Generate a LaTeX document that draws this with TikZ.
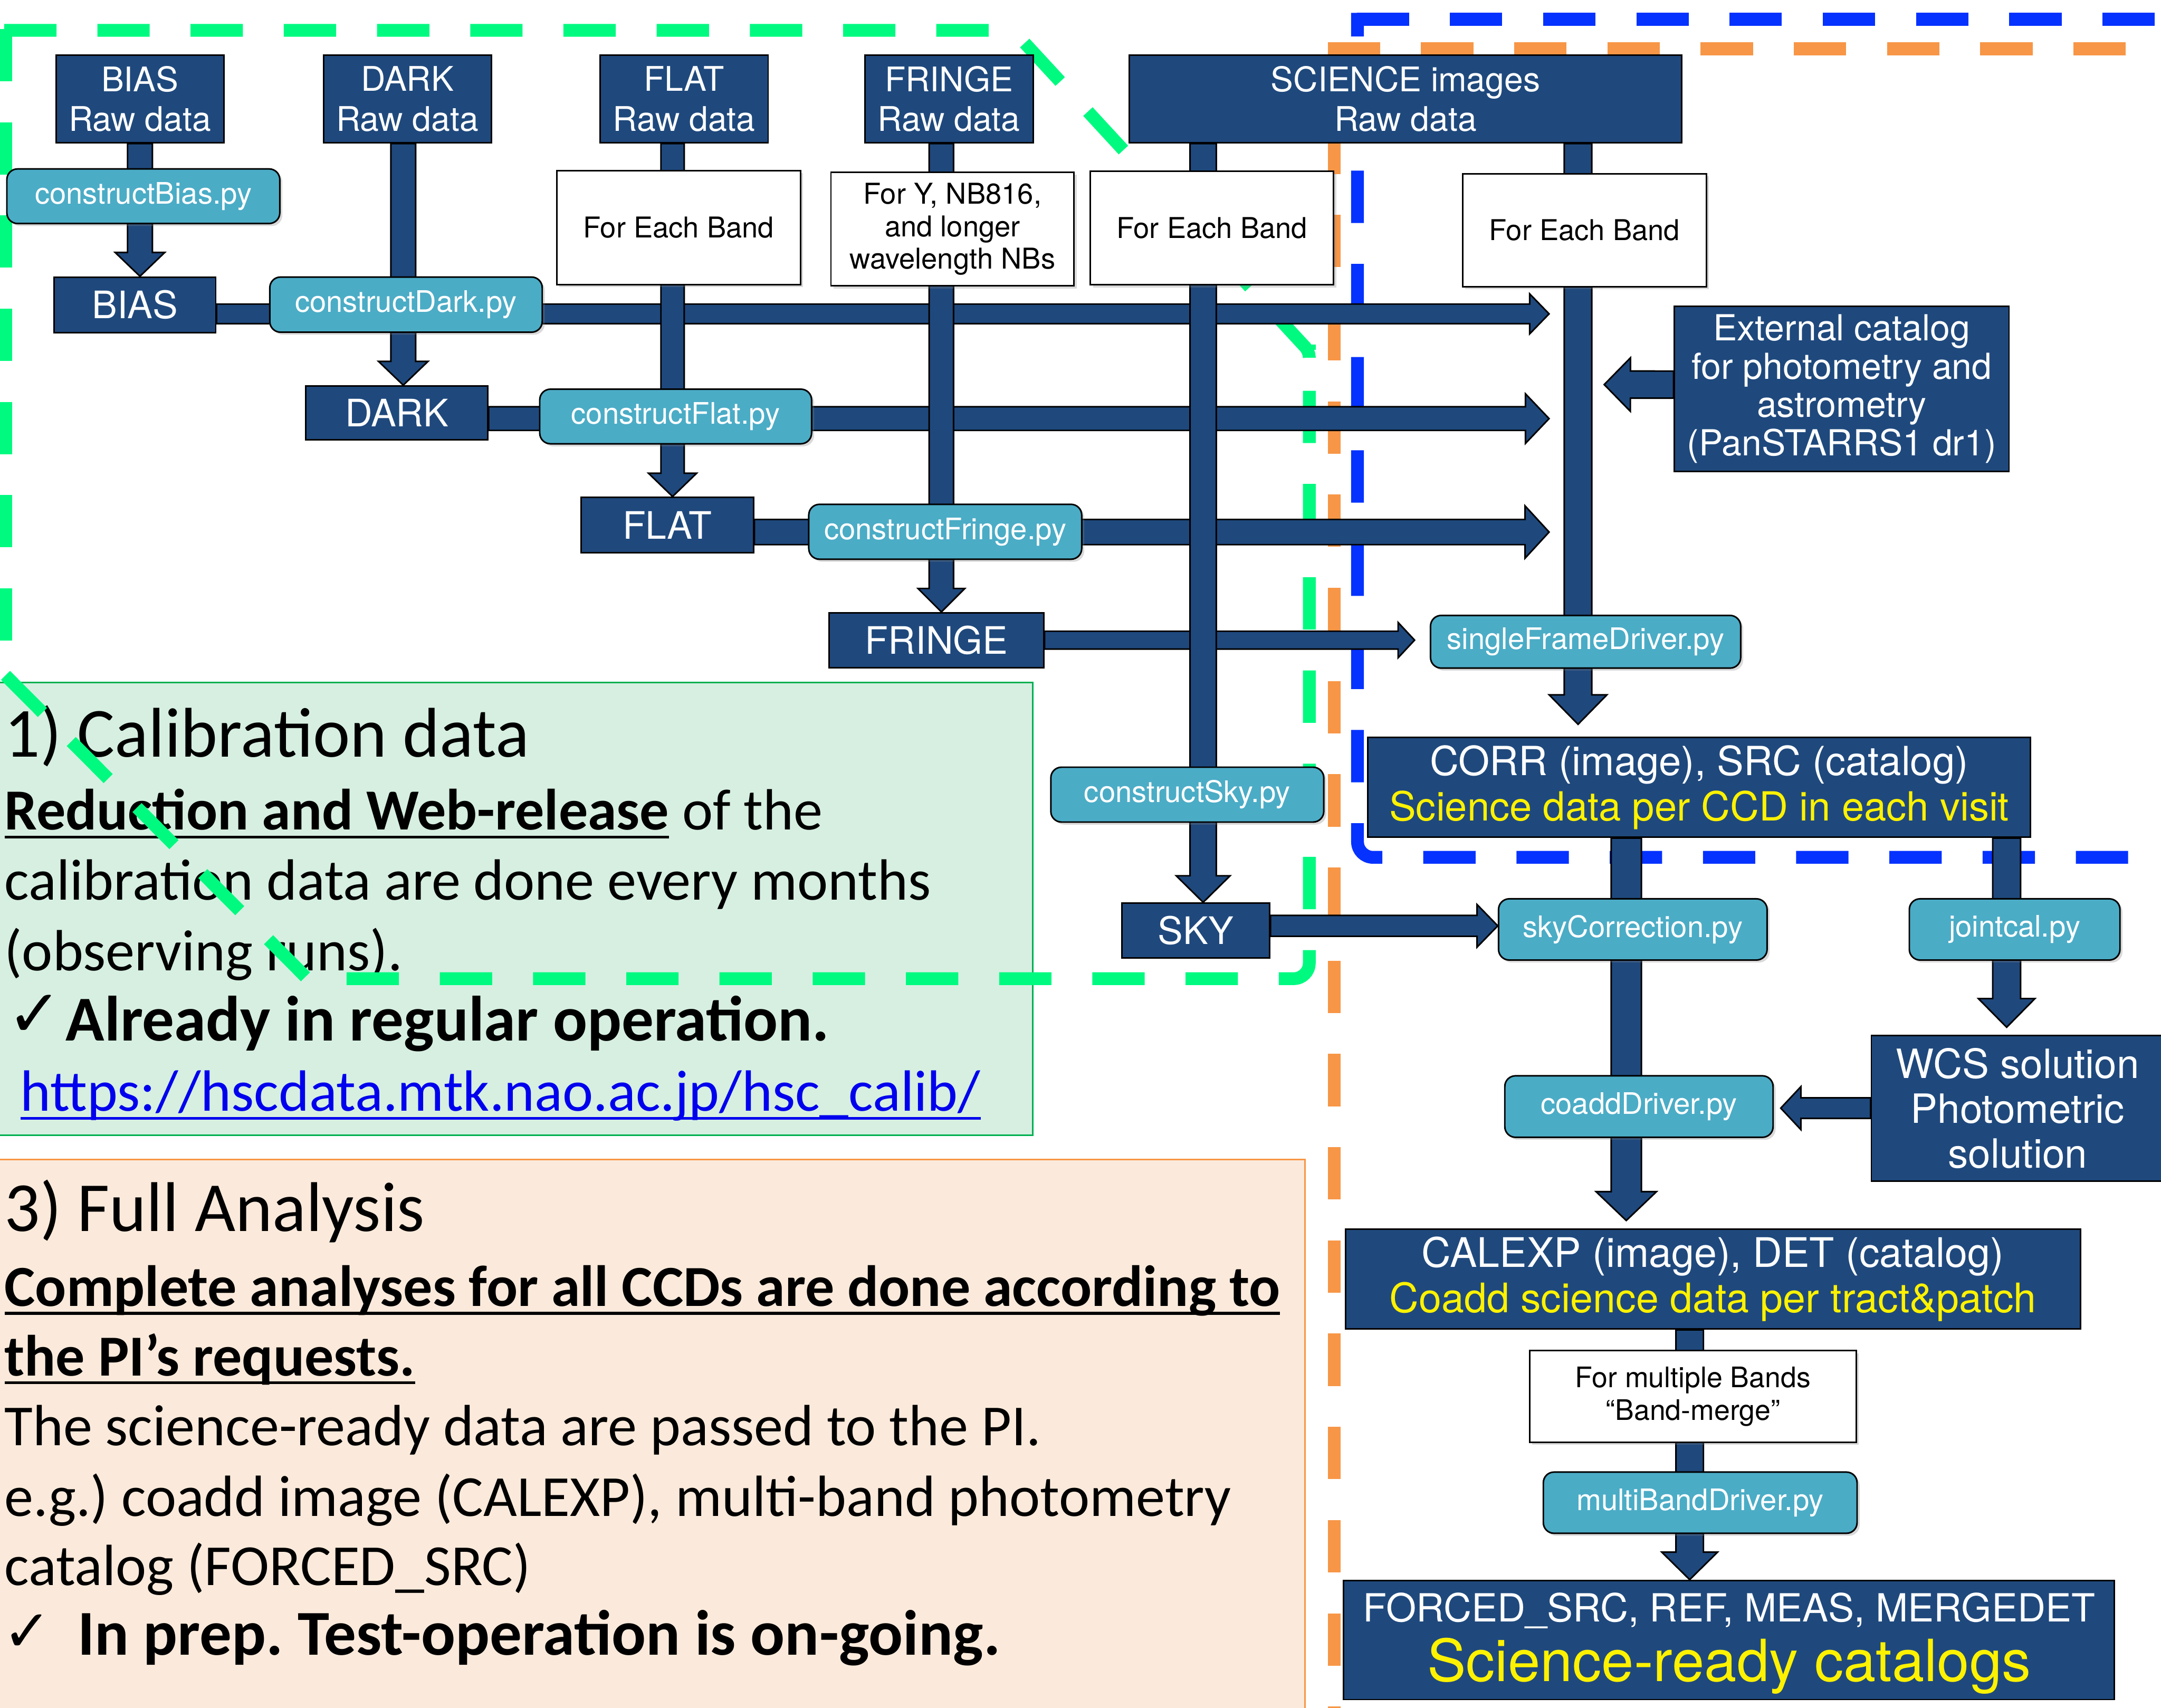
\documentclass[tikz,border=0pt]{standalone}
\usepackage{fontspec}
\setmainfont{TeX Gyre Heros}
\newfontfamily\cbfont{Carlito}
\newfontfamily\djfont{DejaVu Sans}
\usetikzlibrary{calc,shadows}
\frenchspacing
\definecolor{boxblue}{HTML}{1F497D}
\definecolor{pyblue}{HTML}{4BACC6}
\definecolor{dgreen}{RGB}{0,250,128}
\definecolor{dblue}{RGB}{5,50,255}
\definecolor{dorange}{HTML}{F79646}
\definecolor{gpanel}{RGB}{214,239,225}
\definecolor{gborder}{HTML}{00B050}
\definecolor{opanel}{RGB}{251,234,219}
\definecolor{linkblue}{RGB}{0,0,238}
\newlength\ulw
\newcommand\ulx[1]{\settowidth{\ulw}{#1}\rlap{\rule[-4.4pt]{\ulw}{1.4pt}}#1}
\pgfdeclarelayer{panel}
\pgfdeclarelayer{dashes}
\pgfdeclarelayer{arrows}
\pgfsetlayers{panel,dashes,arrows,main}
% block arrow: #1 start, #2 tip, #3 half shaft, #4 half head, #5 head length
\newcommand\barrow[5]{%
  \coordinate (bam) at ($(#2)!#5!(#1)$);
  \filldraw[blockarrow] ($(#1)!#3!90:(#2)$) -- ($(bam)!#3!90:(#2)$) -- ($(bam)!#4!90:(#2)$) -- (#2) -- ($(bam)!#4!-90:(#2)$) -- ($(bam)!#3!-90:(#2)$) -- ($(#1)!#3!-90:(#2)$) -- cycle;}
\tikzset{
 dk/.style={draw=black, line width=0.8pt, fill=boxblue, text=white, inner sep=0pt, align=center},
 raw/.style={dk, font=\fontsize{17.5}{20.6}\selectfont, minimum height=1.59cm},
 prod/.style={dk, font=\fontsize{19.5}{22}\selectfont},
 wt/.style={draw=black, line width=0.8pt, fill=white, inner sep=0pt, align=center, font=\fontsize{14.8}{16.7}\selectfont, drop shadow={opacity=0.3, shadow xshift=1.3pt, shadow yshift=-1.3pt}},
 py/.style={draw=black, line width=0.8pt, fill=pyblue, text=white, rounded corners=5.5pt, inner sep=0pt, font=\fontsize{15.3}{18}\selectfont, drop shadow={opacity=0.3, shadow xshift=1.3pt, shadow yshift=-1.3pt}},
 blockarrow/.style={fill=boxblue, draw=black, line width=0.8pt, line join=miter},
 dashline/.style={line width=6.6pt, dash pattern=on 27pt off 21.1pt},
 ptxt/.style={anchor=base west, inner sep=0pt, font=\cbfont\fontsize{30}{36}\selectfont},
 phead/.style={anchor=base west, inner sep=0pt, font=\cbfont\fontsize{36.3}{42}\selectfont},
 pchk/.style={anchor=base west, inner sep=0pt, font=\cbfont\bfseries\fontsize{33}{40}\selectfont},
 tick/.style={anchor=base west, inner sep=0pt},
}
\begin{document}
\begin{tikzpicture}[x=0.025cm,y=-0.025cm]
\useasboundingbox (0,0) rectangle (1568,1239);

% ---------- panels ----------
\begin{pgfonlayer}{panel}
\filldraw[fill=gpanel, draw=gborder, line width=0.8pt] (-2,495) rectangle (749.3,823.7);
\filldraw[fill=opanel, draw=dorange, line width=0.8pt] (-2,841.2) rectangle (947,1250);
\node[phead] (g1) at (3,549) {1) Calibration data};
\node[ptxt] (g2) at (3,602) {{\bfseries\ulx{Reduction and Web-release}} of the};
\node[ptxt] (g3) at (3,653) {calibration data are done every months};
\node[ptxt] (g4) at (3,704) {(observing runs).};
\node[tick, font=\djfont\fontsize{34}{38}\selectfont] (g5a) at (5,752) {✓};
\node[pchk] (g5) at (47.5,755) {Already in regular operation.};
\node[ptxt, text=linkblue] (g6) at (14.6,806) {\ulx{https://hscdata.mtk.nao.ac.jp/hsc\_calib/}};
\node[phead] (o1) at (3,893.4) {3) Full Analysis};
\node[ptxt] (o2) at (3,947.6) {{\bfseries\ulx{Complete analyses for all CCDs are done according to}}};
\node[ptxt] (o3) at (3,998) {{\bfseries\ulx{the PI’s requests.}}};
\node[ptxt] (o4) at (3,1048.8) {The science-ready data are passed to the PI.};
\node[ptxt] (o5) at (3,1100) {e.g.) coadd image (CALEXP), multi-band photometry};
\node[ptxt] (o6) at (3,1150) {catalog (FORCED\_SRC)};
\node[tick, font=\djfont\fontsize{30}{34}\selectfont] (o7a) at (2,1198) {✓};
\node[pchk] (o7) at (56,1200.7) {In prep. Test-operation is on-going.};
\end{pgfonlayer}

% ---------- dashed outlines ----------
\begin{pgfonlayer}{dashes}
\draw[dashline, dgreen, rounded corners=3pt] (3,22) -- (735,22) -- (950,255) -- (950,262);
\draw[dashline, dgreen, rounded corners=8pt] (251.5,710) -- (950,710) -- (950,250);
\draw[dashline, dgreen] (4,21) -- (4,490);
\draw[dashline, dgreen] (4,490) -- (223,710);
\draw[dashline, dblue] (984.4,14) -- (1640,14);
\draw[dashline, dblue, rounded corners=8pt, dash phase=14.8pt] (985,9.3) -- (985,622) -- (1640,622);
\draw[dashline, dorange] (963.4,35.4) -- (1640,35.4);
\draw[dashline, dorange, dash phase=7.4pt] (968,31) -- (968,1260);
\end{pgfonlayer}

% ---------- boxes ----------
\node[raw, minimum width=3.04cm] (biasraw) at (101.55,71.8) {BIAS\\Raw data};
\node[raw, minimum width=3.045cm] (darkraw) at (295.6,71.8) {DARK\\Raw data};
\node[raw, minimum width=3.05cm] (flatraw) at (496.35,71.8) {FLAT\\Raw data};
\node[raw, minimum width=3.05cm] (fringeraw) at (688.55,71.8) {FRINGE\\Raw data};
\node[raw, minimum width=10.02cm] (sciraw) at (1019.85,71.8) {SCIENCE images\\Raw data};

\node[wt, minimum width=4.42cm, minimum height=2.065cm] (flatfe) at (492.45,165.1) {For Each Band};
\node[wt, minimum width=4.41cm, minimum height=2.06cm] (fringefe) at (691.15,166.25) {For Y, NB816,\\and longer\\wavelength NBs};
\node[wt, minimum width=4.41cm, minimum height=2.06cm] (scife1) at (879.45,165.45) {For Each Band};
\node[wt, minimum width=4.42cm, minimum height=2.05cm] (scife2) at (1149.75,167.05) {For Each Band};

\node[prod, minimum width=2.93cm, minimum height=1.005cm] (bias) at (97.95,221.1) {BIAS};
\node[prod, minimum width=3.3cm, minimum height=0.975cm] (dark) at (288,299.5) {DARK};
\node[prod, minimum width=3.13cm, minimum height=1.005cm] (flat) at (484.2,380.9) {FLAT};
\node[prod, minimum width=3.89cm, minimum height=0.995cm] (fringe) at (679.5,464.4) {FRINGE};
\node[prod, minimum width=2.68cm, minimum height=0.995cm] (sky) at (867.65,675.1) {SKY};

\node[dk, font=\fontsize{18.5}{19.8}\selectfont, minimum width=6.07cm, minimum height=2.99cm] (ext) at (1336.3,282.05) {External catalog\\for photometry and\\astrometry\\(PanSTARRS1 dr1)};
\node[dk, font=\fontsize{20.7}{23.5}\selectfont, minimum width=12.015cm, minimum height=1.81cm] (corr) at (1232.9,571.25) {CORR (image), SRC (catalog)\\\textcolor{yellow}{Science data per CCD in each visit}};
\node[dk, minimum width=5.43cm, minimum height=2.64cm] (wcs) at (1466.45,803.95) {};
\node[inner sep=0pt, text=white, align=center, font=\fontsize{20.8}{23.1}\selectfont] (wcst) at (1464,804) {WCS solution\\Photometric\\solution};
\node[dk, font=\fontsize{21}{23.5}\selectfont, minimum width=13.33cm, minimum height=1.81cm] (calexp) at (1242.85,928.05) {CALEXP (image), DET (catalog)\\\textcolor{yellow}{Coadd science data per tract\&patch}};
\node[wt, font=\fontsize{14.6}{17}\selectfont, minimum width=5.92cm, minimum height=1.66cm] (multi) at (1228.4,1013.15) {For multiple Bands\\“Band-merge”};
\node[dk, minimum width=13.98cm, minimum height=2.16cm] (forced) at (1254.6,1189.8) {};
\node[anchor=base, inner sep=0pt, text=white, font=\fontsize{20}{24}\selectfont] (forcedt) at (1254.6,1176.4) {FORCED\_SRC, REF, MEAS, MERGEDET};
\node[anchor=base, inner sep=0pt, text=yellow, font=\fontsize{30}{36}\selectfont] (forcedy) at (1254.6,1220) {Science-ready catalogs};

\node[py, minimum width=4.95cm, minimum height=0.99cm] (cbias) at (104,142.35) {constructBias.py};
\node[py, minimum width=4.94cm, minimum height=1.0cm] (cdark) at (294.6,221) {constructDark.py};
\node[py, minimum width=4.93cm, minimum height=0.99cm] (cflat) at (490.25,302.15) {constructFlat.py};
\node[py, minimum width=4.95cm, minimum height=0.995cm] (cfringe) at (685.85,385.8) {constructFringe.py};
\node[py, minimum width=4.95cm, minimum height=0.995cm] (csky) at (861.5,576.5) {constructSky.py};
\node[py, minimum width=5.625cm, minimum height=0.955cm] (sfd) at (1150.5,465.6) {singleFrameDriver.py};
\node[py, minimum width=4.87cm, minimum height=1.11cm] (skycorr) at (1184.75,674.3) {skyCorrection.py};
\node[py, minimum width=3.82cm, minimum height=1.11cm] (jointcal) at (1461.8,674.3) {jointcal.py};
\node[py, minimum width=4.865cm, minimum height=1.115cm] (coadd) at (1189.2,802.8) {coaddDriver.py};
\node[py, minimum width=5.69cm, minimum height=1.11cm] (mbd) at (1233.65,1090.2) {multiBandDriver.py};

% ---------- connector end points ----------
\coordinate (a1s) at (biasraw.south);
\coordinate (a1e) at (a1s |- bias.north);
\coordinate (a2s) at ($(darkraw.south)+(-3,0)$);
\coordinate (a2e) at (a2s |- dark.north);
\coordinate (a3s) at ($(flatraw.south)+(-8.35,0)$);
\coordinate (a3e) at (a3s |- flat.north);
\coordinate (a4s) at ($(fringeraw.south)+(-5.5,0)$);
\coordinate (a4e) at (a4s |- fringe.north);
\coordinate (a5s) at ($(sciraw.south)+(-146.85,0)$);
\coordinate (a5e) at (a5s |- sky.north);
\coordinate (a6s) at ($(sciraw.south)+(125.15,0)$);
\coordinate (a6e) at ($(a6s |- corr.north)+(0,-9)$);
\coordinate (h1s) at ($(bias.east)+(0,6.6)$);
\coordinate (h1e) at (1124,227.7);
\coordinate (h2s) at ($(dark.east)+(0,4.2)$);
\coordinate (h2e) at (1124,303.7);
\coordinate (h3s) at ($(flat.east)+(0,5.1)$);
\coordinate (h3e) at (1124,386);
\coordinate (h4s) at (fringe.east);
\coordinate (h4e) at ($(h4s -| sfd.west)+(-11,0)$);
\coordinate (h5s) at ($(sky.east)+(0,-3.4)$);
\coordinate (h5e) at (h5s -| skycorr.west);
\coordinate (h6s) at ($(ext.west)+(0,-3)$);
\coordinate (h6e) at (1164,279);
\coordinate (v7s) at ($(corr.south)+(-52.9,0)$);
\coordinate (v7e) at ($(v7s |- calexp.north)+(0,-5.8)$);
\coordinate (v8s) at ($(corr.south)+(223.1,0)$);
\coordinate (v8e) at ($(v8s |- wcs.north)+(0,-5.3)$);
\coordinate (h9s) at (wcs.west);
\coordinate (h9e) at ($(h9s -| coadd.east)+(5,0)$);
\coordinate (v10s) at ($(calexp.south)+(-16.85,0)$);
\coordinate (v10e) at (v10s |- forced.north);

% ---------- block arrows ----------
\begin{pgfonlayer}{arrows}
\barrow{h1s}{h1e}{5.05pt}{10.3pt}{10pt}
\barrow{h2s}{h2e}{6.1pt}{12.8pt}{12.2pt}
\barrow{h3s}{h3e}{6.5pt}{13.5pt}{12.4pt}
\barrow{h4s}{h4e}{4.6pt}{9.1pt}{8.5pt}
\barrow{h5s}{h5e}{5.4pt}{11pt}{10.7pt}
\barrow{h6s}{h6e}{7pt}{13.8pt}{13.5pt}
\barrow{h9s}{h9e}{5.3pt}{11.1pt}{10.4pt}
\barrow{a1s}{a1e}{6.4pt}{12.8pt}{12.3pt}
\barrow{a2s}{a2e}{6.4pt}{12.8pt}{12.3pt}
\barrow{a3s}{a3e}{6pt}{12.4pt}{12pt}
\barrow{a4s}{a4e}{6.3pt}{12.1pt}{12.1pt}
\barrow{a5s}{a5e}{6.75pt}{13.9pt}{13.7pt}
\barrow{a6s}{a6e}{7.1pt}{14.9pt}{15.2pt}
\barrow{v7s}{v7e}{7.8pt}{15.6pt}{14.9pt}
\barrow{v8s}{v8e}{7.2pt}{14.6pt}{14.8pt}
\barrow{v10s}{v10e}{7.1pt}{14.4pt}{14.2pt}
\end{pgfonlayer}
\end{tikzpicture}
\end{document}
